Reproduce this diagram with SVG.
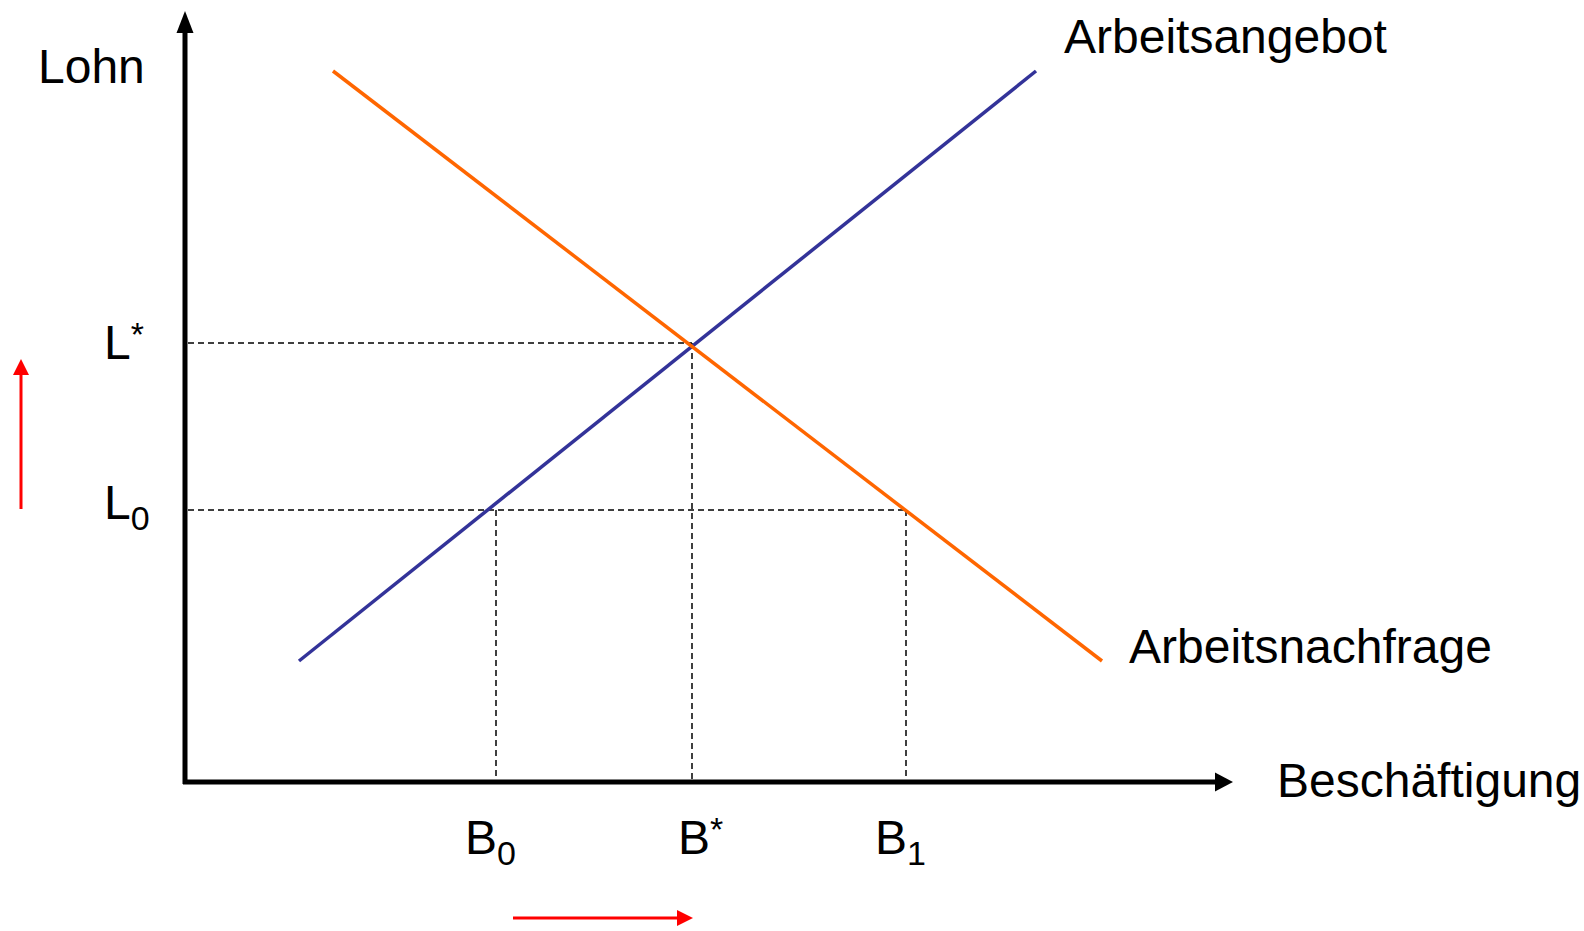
<svg xmlns="http://www.w3.org/2000/svg" width="1584" height="931" viewBox="0 0 1584 931">
<style>
.lbl{font-family:"Liberation Sans",Arial,sans-serif;font-size:48px;fill:#000}
.tick{font-family:"Liberation Sans",Arial,sans-serif;font-size:48px;fill:#000}
.sub{font-size:34px}
.dash{stroke:#000;stroke-width:1.5;stroke-dasharray:6 4;fill:none}
.axis{stroke:#000;stroke-width:5;fill:none}
.red{stroke:#FF0000;stroke-width:3;fill:none}
</style>
<rect width="1584" height="931" fill="#fff"/>
<g id="guides">
<line class="dash" x1="188" y1="343" x2="692" y2="343"/>
<line class="dash" x1="188" y1="510" x2="906" y2="510"/>
<line class="dash" x1="496" y1="510" x2="496" y2="780"/>
<line class="dash" x1="692" y1="343" x2="692" y2="780"/>
<line class="dash" x1="906" y1="510" x2="906" y2="780"/>
</g>
<g id="axes">
<line class="axis" x1="185" y1="784" x2="185" y2="32"/>
<polygon points="185,11 176.5,33 193.5,33" fill="#000"/>
<line class="axis" x1="183" y1="782" x2="1216" y2="782"/>
<polygon points="1233,782 1215,772.5 1215,791.5" fill="#000"/>
</g>
<g id="curves">
<line id="angebot" x1="299" y1="661" x2="1036" y2="71" stroke="#333399" stroke-width="3.5"/>
<line id="nachfrage" x1="333" y1="71" x2="1102" y2="661" stroke="#FF6600" stroke-width="3.5"/>
</g>
<g id="shift-arrows">
<line class="red" x1="21" y1="509" x2="21" y2="374"/>
<polygon points="21,359 13,375 29,375" fill="#FF0000"/>
<line class="red" x1="513" y1="918" x2="678" y2="918"/>
<polygon points="693,918 677,910 677,926" fill="#FF0000"/>
</g>
<g id="labels">
<text class="lbl" x="38" y="83">Lohn</text>
<text class="lbl" x="1064" y="53">Arbeitsangebot</text>
<text class="lbl" x="1129" y="663">Arbeitsnachfrage</text>
<text class="lbl" x="1277" y="797">Beschäftigung</text>
<text class="tick" x="104" y="359">L<tspan class="sub" dy="-13">*</tspan></text>
<text class="tick" x="104" y="519">L<tspan class="sub" dy="11">0</tspan></text>
<text class="tick" x="465" y="854">B<tspan class="sub" dy="11">0</tspan></text>
<text class="tick" x="678" y="854">B<tspan class="sub" dy="-13">*</tspan></text>
<text class="tick" x="875" y="854">B<tspan class="sub" dy="11">1</tspan></text>
</g>
</svg>
